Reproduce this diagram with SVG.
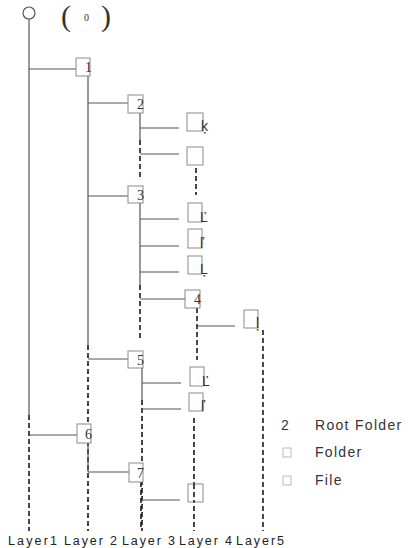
<svg xmlns="http://www.w3.org/2000/svg" width="411" height="548" viewBox="0 0 411 548">
<style>
.s{stroke:#555;stroke-width:1.2;fill:none}
.d{stroke:#1a1a1a;stroke-width:1.6;stroke-dasharray:5 3;fill:none}
.box{fill:#fff;stroke:#8a8a8a;stroke-width:1}
.num{font-family:"Liberation Serif",serif;font-size:14px;fill:#333}
.g{font-family:"Liberation Sans",Arial,sans-serif;font-size:14px;fill:#333}
.lay{font-family:"Liberation Sans",Arial,sans-serif;font-size:12.5px;fill:#222}
.leg{font-family:"Liberation Sans",Arial,sans-serif;font-size:14px;fill:#333;letter-spacing:1.3px}
.sq{fill:none;stroke:#aaa;stroke-width:0.8}
</style>
<g id="connectors">
<line class="s" x1="29" y1="19" x2="29" y2="415"/>
<line class="d" x1="29" y1="415" x2="29" y2="531"/>
<line class="s" x1="29" y1="69" x2="76" y2="69"/>
<line class="s" x1="29" y1="435" x2="77" y2="435"/>
<line class="s" x1="88" y1="76" x2="88" y2="345"/>
<line class="d" x1="88" y1="345" x2="88" y2="531"/>
<line class="s" x1="88" y1="443" x2="88" y2="472"/>
<line class="s" x1="88" y1="103" x2="128" y2="103"/>
<line class="s" x1="88" y1="196" x2="128" y2="196"/>
<line class="s" x1="88" y1="359" x2="128" y2="359"/>
<line class="s" x1="88" y1="472" x2="129" y2="472"/>
<line class="s" x1="140" y1="113" x2="140" y2="140"/>
<line class="d" x1="140" y1="140" x2="140" y2="178"/>
<line class="s" x1="140" y1="128" x2="179" y2="128"/>
<line class="s" x1="140" y1="154" x2="179" y2="154"/>
<line class="d" x1="196" y1="168" x2="196" y2="195"/>
<line class="s" x1="140" y1="203" x2="140" y2="285"/>
<line class="d" x1="140" y1="285" x2="140" y2="340"/>
<line class="s" x1="140" y1="219" x2="179" y2="219"/>
<line class="s" x1="140" y1="246" x2="179" y2="246"/>
<line class="s" x1="140" y1="272" x2="179" y2="272"/>
<line class="s" x1="140" y1="299" x2="185" y2="299"/>
<line class="d" x1="197" y1="308" x2="197" y2="360"/>
<line class="s" x1="197" y1="326" x2="235" y2="326"/>
<line class="d" x1="263" y1="330" x2="263" y2="531"/>
<line class="s" x1="142" y1="368" x2="142" y2="400"/>
<line class="d" x1="142" y1="400" x2="142" y2="531"/>
<line class="s" x1="142" y1="383" x2="181" y2="383"/>
<line class="s" x1="142" y1="409" x2="181" y2="409"/>
<line class="d" x1="194" y1="418" x2="194" y2="531"/>
<line class="d" x1="141" y1="482" x2="141" y2="528"/>
<line class="s" x1="141" y1="500" x2="180" y2="500"/>
</g>
<g id="root">
<circle cx="29" cy="13" r="6" fill="#fff" stroke="#555" stroke-width="1.2"/>
<text x="61" y="26" font-family="Liberation Serif,serif" font-size="30" fill="#333">(</text>
<text x="84" y="21" font-family="Liberation Serif,serif" font-size="10" fill="#333">0</text>
<text x="101" y="26" font-family="Liberation Serif,serif" font-size="30" fill="#333">)</text>
</g>
<g id="n1"><rect class="box" x="76" y="58" width="14" height="18"/><text class="num" x="85" y="72">1</text></g>
<g id="n2"><rect class="box" x="128" y="95" width="15" height="18"/><text class="num" x="137" y="109">2</text></g>
<g id="f1"><rect class="box" x="187" y="113" width="16" height="18"/><text class="g" x="201" y="131">ķ</text></g>
<g id="f2"><rect class="box" x="187" y="147" width="16" height="18"/></g>
<g id="n3"><rect class="box" x="128" y="186" width="15" height="17"/><text class="num" x="137" y="200">3</text></g>
<g id="f3"><rect class="box" x="188" y="203" width="14" height="19"/><text class="g" x="200" y="222">Ľ</text></g>
<g id="f4"><rect class="box" x="188" y="229" width="14" height="19"/><text class="g" x="200" y="248">ľ</text></g>
<g id="f5"><rect class="box" x="188" y="256" width="14" height="18"/><text class="g" x="200" y="274">Ļ</text></g>
<g id="n4"><rect class="box" x="185" y="290" width="15" height="18"/><text class="num" x="194" y="304">4</text></g>
<g id="f6"><rect class="box" x="244" y="310" width="14" height="18"/><text class="g" x="256" y="328">ļ</text></g>
<g id="n5"><rect class="box" x="128" y="351" width="15" height="17"/><text class="num" x="137" y="365">5</text></g>
<g id="f7"><rect class="box" x="190" y="367" width="14" height="19"/><text class="g" x="202" y="386">Ľ</text></g>
<g id="f8"><rect class="box" x="189" y="393" width="14" height="18"/><text class="g" x="201" y="411">ľ</text></g>
<g id="n6"><rect class="box" x="77" y="424" width="14" height="19"/><text class="num" x="85" y="439">6</text></g>
<g id="n7"><rect class="box" x="129" y="463" width="14" height="19"/><text class="num" x="137" y="478">7</text></g>
<g id="f9"><rect class="box" x="188" y="484" width="15" height="18"/><line class="d" x1="194" y1="484" x2="194" y2="502"/></g>
<g id="layers">
<text class="lay" x="8" y="545" textLength="49" lengthAdjust="spacing">Layer1</text>
<text class="lay" x="64" y="545" textLength="53" lengthAdjust="spacing">Layer 2</text>
<text class="lay" x="122" y="545" textLength="53" lengthAdjust="spacing">Layer 3</text>
<text class="lay" x="179" y="545" textLength="53" lengthAdjust="spacing">Layer 4</text>
<text class="lay" x="236" y="545" textLength="48" lengthAdjust="spacing">Layer5</text>
</g>
<g id="legend">
<text class="leg" x="281" y="430" letter-spacing="0">2</text>
<text class="leg" x="315" y="430">Root Folder</text>
<rect class="sq" x="283" y="448" width="8" height="9"/>
<text class="leg" x="315" y="457">Folder</text>
<rect class="sq" x="283" y="476" width="8" height="9"/>
<text class="leg" x="315" y="485">File</text>
</g>
</svg>
